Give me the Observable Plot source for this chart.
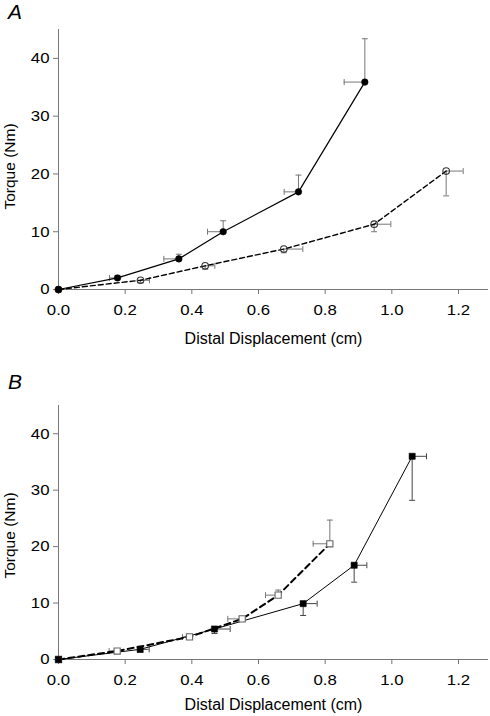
<!DOCTYPE html>
<html><head><meta charset="utf-8">
<script src="https://cdn.jsdelivr.net/npm/d3@7"></script>
<script src="https://cdn.jsdelivr.net/npm/@observablehq/plot@0.6"></script>
<style>
body{margin:0;background:#fff;}
#wrap{position:relative;width:490px;height:716px;font-family:"Liberation Sans",Arial,Helvetica,sans-serif;overflow:hidden;}
.panel{position:absolute;left:0;}
.letter{position:absolute;font-style:italic;font-size:20px;line-height:20px;left:8px;color:#000;transform:scaleX(1.05);transform-origin:left;}
</style></head><body>
<div id="wrap">
<div id="panelA" class="panel" style="top:0"></div>
<div id="panelB" class="panel" style="top:360px"></div>
<div class="letter" style="top:2px">A</div>
<div class="letter" style="top:372px">B</div>
</div>
<script>
// Tick values
const xTicks = [0, 0.2, 0.4, 0.6, 0.8, 1.0, 1.2];
const yTicks = [0, 10, 20, 30, 40];
const xLabel = "Distal Displacement (cm)";
const yLabel = "Torque (Nm)";

// Panel A, filled circles (solid line); error bars to the left / up
const aFilledX    = [0, 0.177, 0.361, 0.494, 0.720, 0.919];
const aFilledY    = [0, 2.0, 5.3, 10.0, 16.9, 35.9];
const aFilledXEnd = [null, 0.153, 0.316, 0.447, 0.677, 0.857];
const aFilledYEnd = [null, 2.4, 6.1, 11.9, 19.8, 43.4];

// Panel A, open circles (dashed line); error bars to the right / down
const aOpenX    = [0, 0.246, 0.440, 0.676, 0.947, 1.163];
const aOpenY    = [0, 1.6, 4.1, 7.0, 11.3, 20.5];
const aOpenXEnd = [null, 0.273, 0.469, 0.733, 0.997, 1.214];
const aOpenYEnd = [null, 1.2, 3.5, 6.35, 10.0, 16.2];

// Panel B, filled squares (solid line); error bars to the right / down
const bFilledX    = [0, 0.245, 0.468, 0.734, 0.887, 1.061];
const bFilledY    = [0, 1.8, 5.4, 9.9, 16.7, 36.0];
const bFilledXEnd = [null, 0.272, 0.515, 0.776, 0.925, 1.104];
const bFilledYEnd = [null, 1.3, 4.6, 7.8, 13.7, 28.2];

// Panel B, open squares (dashed line); error bars to the left / up
const bOpenX    = [0, 0.176, 0.393, 0.551, 0.659, 0.814];
const bOpenY    = [0, 1.5, 4.0, 7.2, 11.4, 20.5];
const bOpenXEnd = [null, 0.152, 0.372, 0.508, 0.621, 0.764];
const bOpenYEnd = [null, 1.8, 4.3, 7.6, 12.3, 24.7];

function rows(xs, ys, xe, ye) {
  return xs.map((x, i) => ({x, y: ys[i], xe: xe[i], ye: ye[i]}));
}

const capV = {draw(ctx, size) { const h = Math.sqrt(size / Math.PI); ctx.moveTo(0, -h); ctx.lineTo(0, h); }};
const capH = {draw(ctx, size) { const h = Math.sqrt(size / Math.PI); ctx.moveTo(-h, 0); ctx.lineTo(h, 0); }};

function errorMarks(data, color) {
  const d = data.filter(r => r.xe != null);
  return [
    Plot.ruleY(d, {y: "y", x1: "x", x2: "xe", stroke: color, strokeWidth: 1}),
    Plot.ruleX(d, {x: "x", y1: "y", y2: "ye", stroke: color, strokeWidth: 1}),
    Plot.dot(d, {x: "xe", y: "y", symbol: capV, r: 3, stroke: color, fill: "none", strokeWidth: 1}),
    Plot.dot(d, {x: "x", y: "ye", symbol: capH, r: 3, stroke: color, fill: "none", strokeWidth: 1})
  ];
}

function makePanel(cfg) {
  const svg = Plot.plot({
    width: 490,
    height: cfg.height,
    marginLeft: 58,
    marginRight: 2,
    marginTop: cfg.marginTop,
    marginBottom: cfg.marginBottom,
    style: {fontFamily: '"Liberation Sans", Arial, Helvetica, sans-serif', fontSize: "15px", background: "white", color: "black"},
    x: {domain: [0, 1.29]},
    y: {domain: [0, 45]},
    marks: [
      Plot.ruleY([0], {stroke: "#777"}),
      Plot.ruleX([0], {stroke: "#777"}),
      Plot.axisX(xTicks, {tickSize: 5, tickPadding: 10, stroke: "#777", fill: "black",
        tickFormat: d3.format(".1f"), label: xLabel, labelAnchor: "center", labelArrow: "none", labelOffset: cfg.xLabelOffset}),
      Plot.axisY(yTicks, {tickSize: 5, tickPadding: 4, stroke: "#777", fill: "black",
        tickFormat: d => String(d), label: yLabel, labelAnchor: "center", labelArrow: "none", labelOffset: 55}),
      ...errorMarks(cfg.open, cfg.openErr),
      ...errorMarks(cfg.filled, cfg.filledErr),
      Plot.line(cfg.filled, {x: "x", y: "y", stroke: "black", strokeWidth: cfg.solidWidth}),
      Plot.line(cfg.open, {x: "x", y: "y", stroke: "black", strokeWidth: cfg.dashWidth, strokeDasharray: cfg.dash}),
      Plot.dot(cfg.open, {x: "x", y: "y", symbol: cfg.openSymbol, r: cfg.r, stroke: cfg.openStroke, fill: cfg.openFill, strokeWidth: 1.1}),
      Plot.dot(cfg.filled, {x: "x", y: "y", symbol: cfg.filledSymbol, r: cfg.r, fill: "black", stroke: "black", strokeWidth: 0.5})
    ]
  });
  // slightly wider lettering, as in the source figure
  svg.querySelectorAll('[aria-label="x-axis tick label"] text, [aria-label="y-axis tick label"] text').forEach(t => {
    const tr = t.getAttribute("transform") || "";
    t.setAttribute("transform", tr + " scale(1.12,1)");
  });
  svg.querySelectorAll('[aria-label="x-axis label"] text').forEach(t => t.setAttribute("font-size", "16"));
  svg.querySelectorAll('[aria-label="y-axis label"] text').forEach(t => {
    t.setAttribute("font-size", "15.5");
    t.setAttribute("dx", String(-cfg.yLabelShift));
  });
  return svg;
}

document.getElementById("panelA").appendChild(makePanel({
  height: 360, marginTop: 29, marginBottom: 71, xLabelOffset: 54, yLabelShift: 7,
  filled: rows(aFilledX, aFilledY, aFilledXEnd, aFilledYEnd),
  open: rows(aOpenX, aOpenY, aOpenXEnd, aOpenYEnd),
  filledErr: "#777", openErr: "#777",
  filledSymbol: "circle", openSymbol: "circle", r: 3.3,
  openStroke: "#333", openFill: "none",
  solidWidth: 1.2, dashWidth: 1.4, dash: "5,3"
}));

document.getElementById("panelB").appendChild(makePanel({
  height: 356, marginTop: 45, marginBottom: 57, xLabelOffset: 50, yLabelShift: 3,
  filled: rows(bFilledX, bFilledY, bFilledXEnd, bFilledYEnd),
  open: rows(bOpenX, bOpenY, bOpenXEnd, bOpenYEnd),
  filledErr: "#444", openErr: "#777",
  filledSymbol: "square", openSymbol: "square", r: 3.5,
  openStroke: "#666", openFill: "white",
  solidWidth: 1, dashWidth: 2, dash: "6,4"
}));
</script>
</body></html>
